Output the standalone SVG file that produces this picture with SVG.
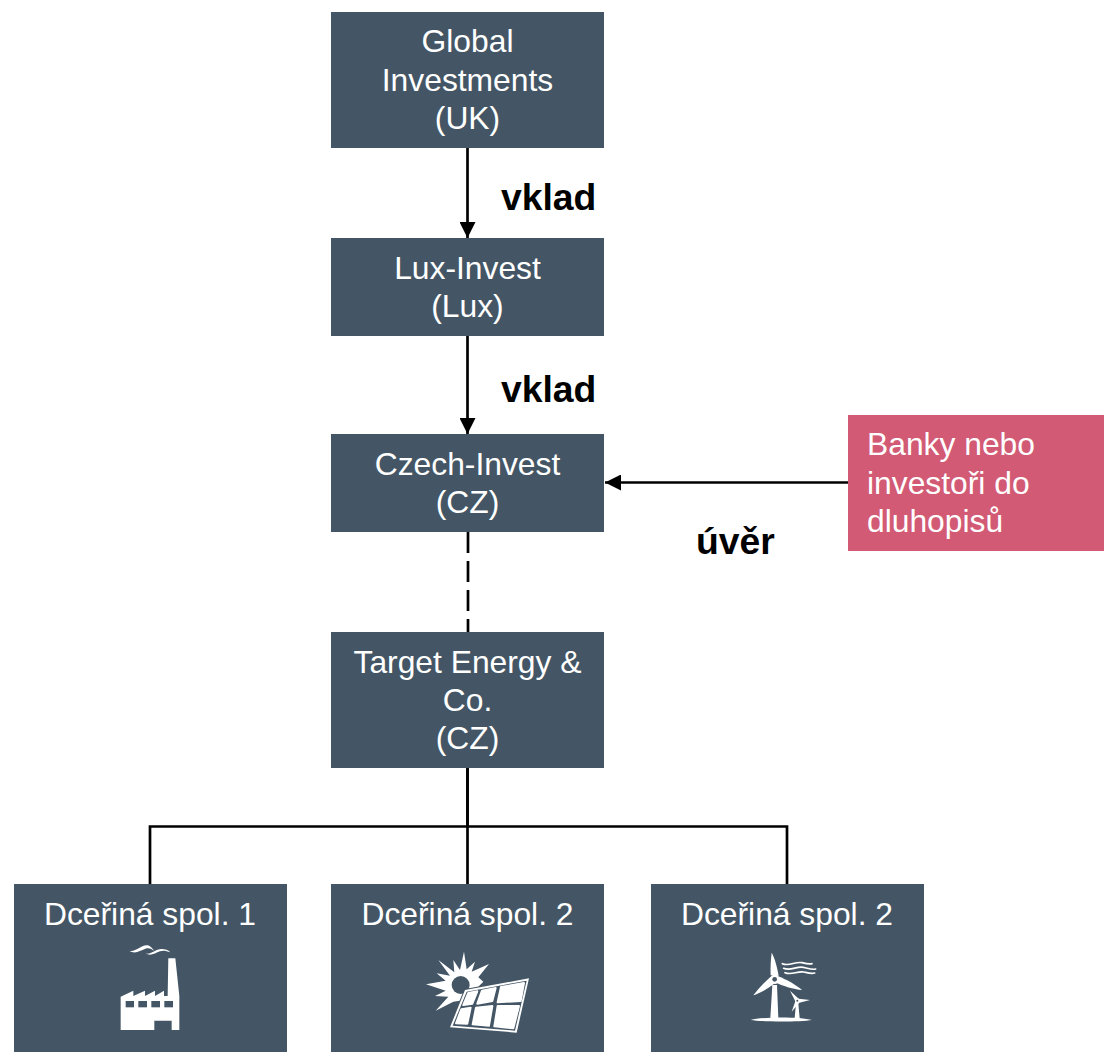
<svg xmlns="http://www.w3.org/2000/svg" width="1104" height="1052" viewBox="0 0 1104 1052">
<style>
.n{fill:#445665}
.p{fill:#d25a74}
text{font-family:"Liberation Sans",Arial,sans-serif}
.t{font-size:31.800px;fill:#fff;text-anchor:middle}
.l{font-size:31.800px;fill:#fff}
.b{font-size:37.300px;font-weight:bold;fill:#000}
.c{fill:none;stroke:#000;stroke-width:2.700}
.w{fill:#fff}
.ws{fill:none;stroke:#fff;stroke-width:5;stroke-linecap:round}
</style>
<defs>
<marker id="a" markerUnits="userSpaceOnUse" markerWidth="18" markerHeight="16" refX="16" refY="8" orient="auto"><path d="M0 0L16 8L0 16Z" fill="#000"/></marker>
</defs>
<rect width="1104" height="1052" fill="#fff"/>
<g id="connectors">
<path class="c" d="M467.500 148V238" marker-end="url(#a)"/>
<path class="c" d="M467.500 336V434" marker-end="url(#a)"/>
<path class="c" d="M848 482.500H605" marker-end="url(#a)"/>
<path class="c" d="M468 532V632" stroke-dasharray="21 8"/>
<path class="c" d="M467.500 768V884"/>
<path class="c" d="M467.500 768V826" stroke-width="3.500"/>
<path class="c" d="M150 884V826.500H787V884"/>
</g>
<g id="global"><rect class="n" x="331" y="12" width="273" height="136"/><text class="t" x="467.500" y="52">Global</text><text class="t" x="467.500" y="91">Investments</text><text class="t" x="467.500" y="129">(UK)</text></g>
<g id="lux"><rect class="n" x="331" y="238" width="273" height="98"/><text class="t" x="467.500" y="279">Lux-Invest</text><text class="t" x="467.500" y="317">(Lux)</text></g>
<g id="czech"><rect class="n" x="331" y="434" width="273" height="98"/><text class="t" x="467.500" y="475">Czech-Invest</text><text class="t" x="467.500" y="513">(CZ)</text></g>
<g id="target"><rect class="n" x="331" y="632" width="273" height="136"/><text class="t" x="467.500" y="673">Target Energy &amp;</text><text class="t" x="467.500" y="711">Co.</text><text class="t" x="467.500" y="749">(CZ)</text></g>
<g id="banks"><rect class="p" x="848" y="415" width="256" height="136"/><text class="l" x="867" y="455">Banky nebo</text><text class="l" x="867" y="494">investoři do</text><text class="l" x="867" y="532">dluhopisů</text></g>
<g id="sub1"><rect class="n" x="14" y="884" width="273" height="168"/><text class="t" x="150" y="925">Dceřiná spol. 1</text>
<g transform="translate(100 930) scale(.3333)">
<path class="w" d="M205 85H226L238 198V300H215V272H163V300H62V200L100 182V198L135 182V198L165 182V198L192 182V198H203Z"/>
<g fill="#445665"><rect x="77" y="213" width="25" height="19"/><rect x="115" y="213" width="26" height="19"/><rect x="154" y="213" width="26" height="19"/><rect x="193" y="213" width="26" height="19"/></g>
<path class="w" d="M88 62C105 68 120 47 140 46C150 46 156 54 162 62C152 55 146 53 136 56C120 62 105 74 88 62Z"/>
<path class="w" d="M138 70C150 76 165 58 185 57C195 57 205 60 211 67C198 62 190 61 180 64C165 70 150 80 138 70Z"/>
</g>
</g>
<g id="sub2"><rect class="n" x="331" y="884" width="273" height="168"/><text class="t" x="467.500" y="925">Dceřiná spol. 2</text>
<g transform="translate(415 940) scale(.3333)">
<path class="w" d="M147 35L155 88L180 65L170 95L222 72L190 112L205 125L150 180L115 185L62 212L100 170L60 168L92 152L33 133L92 122L65 100L105 107L70 60L118 97L115 60L135 90Z"/>
<circle cx="137" cy="135" r="27" fill="#445665"/>
<path class="w" d="M150 150L342 115L305 278L105 262Z" stroke="#445665" stroke-width="6" paint-order="stroke"/>
<path class="n" d="M155 155L335 122L300 272L113 257Z"/>
<path class="w" stroke="#fff" stroke-width="6" stroke-linejoin="round" d="M160 159L187 154L172 191L145 195ZM201 152L242 144L232 183L187 191ZM258 141L327 129L317 183L248 187ZM139 208L167 203L157 251L123 250ZM183 203L232 198L222 257L173 253ZM248 198L312 198L295 265L238 259Z"/>
</g>
</g>
<g id="sub3"><rect class="n" x="651" y="884" width="273" height="168"/><text class="t" x="787" y="925">Dceřiná spol. 2</text>
<g transform="translate(740 940) scale(.3333)">
<path class="w" d="M95 38C105 55 112 85 116 108L92 106C91 85 92 60 95 38Z"/>
<path class="w" d="M112 108C140 118 168 135 186 150C160 148 130 138 108 128Z"/>
<path class="w" d="M92 110L104 130C85 145 60 160 40 166C55 145 75 125 92 110Z"/>
<circle class="w" cx="104" cy="118" r="14"/><circle cx="104" cy="118" r="7" fill="#445665"/>
<path class="w" d="M97 135H111L115 235H91Z"/>
<path class="w" d="M32 240C70 230 180 230 216 240C180 246 70 246 32 240Z"/>
<path class="w" d="M150 152L176 176L210 180L178 188L155 215L166 184Z"/>
<circle class="w" cx="172" cy="182" r="7"/><circle cx="172" cy="182" r="3" fill="#445665"/>
<path class="w" d="M168 190H175L179 235H164Z"/>
<path class="ws" d="M127 71C148 80 165 64 186 68C198 71 208 73 216 71"/>
<path class="ws" d="M131 85C152 94 170 78 190 82C205 85 215 90 227 87"/>
<path class="ws" d="M135 98C155 107 172 92 192 96C205 99 214 102 224 99"/>
</g>
</g>
<g id="labels"><text class="b" x="501" y="210">vklad</text><text class="b" x="501" y="402">vklad</text><text class="b" x="696" y="554">úvěr</text></g>
</svg>
